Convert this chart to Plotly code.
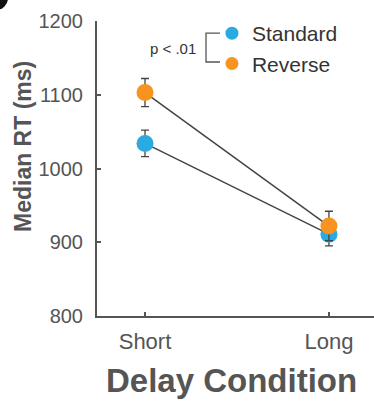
import plotly.graph_objects as go

conditions = ["Short", "Long"]
standard_rt = [1034, 911]
standard_err = [18, 16]
reverse_rt = [1103, 922]
reverse_err = [19, 20]
y_ticks = [800, 900, 1000, 1100, 1200]

BLUE = "#29ABE2"
ORANGE = "#F7931E"
GREY = "#555555"
FONT = "Liberation Sans, Arial, sans-serif"

fig = go.Figure()
for name, vals, errs, col in [("Standard", standard_rt, standard_err, BLUE),
                              ("Reverse", reverse_rt, reverse_err, ORANGE)]:
    fig.add_trace(go.Scatter(
        x=conditions, y=vals, name=name, mode="lines+markers", showlegend=False,
        line=dict(color="#444444", width=1.5),
        marker=dict(color=col, size=17, line=dict(width=0)),
        error_y=dict(type="data", array=errs, visible=True, color="#444444",
                     thickness=1.3, width=4),
    ))
    # legend entry (marker only)
    fig.add_trace(go.Scatter(
        x=[None], y=[None], name=name, mode="markers", legendgroup=name,
        marker=dict(color=col, size=13, line=dict(width=0)),
    ))

fig.update_layout(
    width=374, height=404,
    margin=dict(l=97, r=0, t=21, b=88),
    plot_bgcolor="white", paper_bgcolor="white",
    font=dict(family=FONT, color=GREY),
    showlegend=True,
    legend=dict(x=0.415, y=1.027, xanchor="left", yanchor="top",
                font=dict(size=21, color="#333333"), itemsizing="trace",
                tracegroupgap=0, bgcolor="rgba(0,0,0,0)"),
    xaxis=dict(type="category", range=[-0.261, 1.245], showline=True,
               linecolor=GREY, linewidth=2, ticks="inside", ticklen=4,
               tickcolor=GREY, tickwidth=2, tickfont=dict(size=22, color=GREY),
               ticklabelstandoff=5, showgrid=False, zeroline=False),
    yaxis=dict(range=[800, 1200], tickvals=y_ticks, showline=True,
               linecolor=GREY, linewidth=2, ticks="inside", ticklen=4,
               tickcolor=GREY, tickwidth=2, tickfont=dict(size=20, color=GREY),
               ticklabelstandoff=8, showgrid=False, zeroline=False),
    annotations=[
        dict(text="<b>Median RT (ms)</b>", textangle=-90, xref="paper", yref="paper",
             x=-0.267, y=0.573, xanchor="center", yanchor="middle", showarrow=False,
             font=dict(size=23, color=GREY)),
        dict(text="<b>Delay Condition</b>", xref="paper", yref="paper",
             x=0.487, y=-0.22, xanchor="center", yanchor="middle", showarrow=False,
             font=dict(size=33, color=GREY)),
        dict(text="p < .01", xref="paper", yref="paper", x=0.184, y=0.908,
             xanchor="left", yanchor="middle", showarrow=False,
             font=dict(size=15, color="#333333")),
    ],
    shapes=[
        dict(type="path", xref="paper", yref="paper",
             path="M 0.444 0.959 L 0.3935 0.959 L 0.3935 0.861 L 0.444 0.861",
             line=dict(color=GREY, width=1.3)),
        # cropped panel-label blob at the top-left corner
        dict(type="circle", xref="paper", yref="paper",
             x0=(-16 - 97) / 277, x1=(8 - 97) / 277,
             y0=(316 - 10) / 295, y1=(316 + 14) / 295,
             fillcolor="#111111", line=dict(width=0)),
    ],
)

fig.write_html("out.html")
